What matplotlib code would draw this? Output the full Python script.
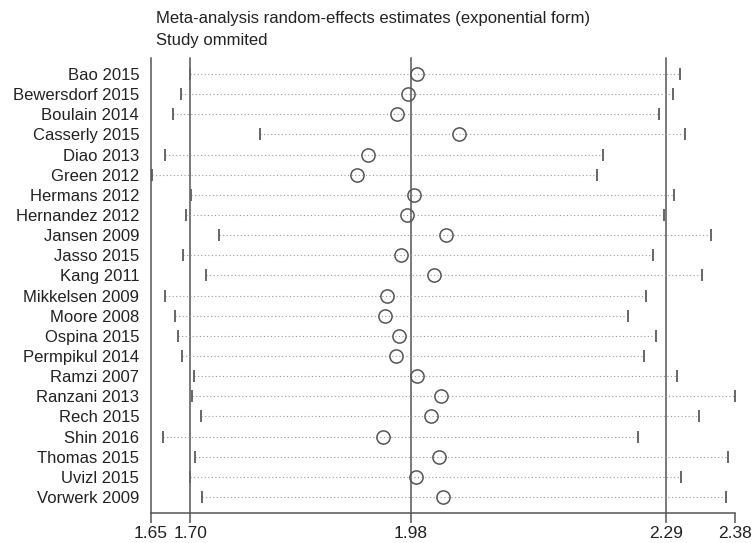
import matplotlib
matplotlib.use("Agg")
import matplotlib.pyplot as plt

plt.rcParams['font.family'] = ['Liberation Sans', 'DejaVu Sans']

studies = ["Bao 2015", "Bewersdorf 2015", "Boulain 2014", "Casserly 2015", "Diao 2013",
           "Green 2012", "Hermans 2012", "Hernandez 2012", "Jansen 2009", "Jasso 2015",
           "Kang 2011", "Mikkelsen 2009", "Moore 2008", "Ospina 2015", "Permpikul 2014",
           "Ramzi 2007", "Ranzani 2013", "Rech 2015", "Shin 2016", "Thomas 2015",
           "Uvizl 2015", "Vorwerk 2009"]
estimate = [1.984, 1.973, 1.959, 2.037, 1.924, 1.910, 1.981, 1.972, 2.021, 1.965, 2.006,
            1.947, 1.945, 1.962, 1.958, 1.984, 2.014, 2.002, 1.942, 2.012, 1.983, 2.017]
lower = [1.703, 1.691, 1.681, 1.790, 1.671, 1.655, 1.704, 1.697, 1.738, 1.694, 1.722,
         1.672, 1.684, 1.688, 1.692, 1.707, 1.705, 1.716, 1.669, 1.709, 1.702, 1.717]
upper = [2.311, 2.302, 2.285, 2.317, 2.215, 2.208, 2.303, 2.291, 2.349, 2.277, 2.339,
         2.269, 2.247, 2.281, 2.266, 2.307, 2.379, 2.335, 2.259, 2.371, 2.312, 2.368]
# overall estimate and its CI, plus the range of the study CIs
overall = [1.703, 1.977, 2.294]
xticks = [1.654, 1.703, 1.977, 2.294, 2.379]

fig = plt.figure(figsize=(7.56, 5.43), dpi=100)
ax = fig.add_axes([151/756, 1 - 513/543, (734.7 - 151)/756, (513 - 58)/543])

rows = list(range(len(studies)))
for i in rows:
    ax.plot([lower[i], upper[i]], [i, i], color='#999999', lw=0.8,
            linestyle=(0, (1, 2.2)), zorder=1)
    ax.plot([lower[i], upper[i]], [i, i], linestyle='none', marker='|',
            markersize=9, markeredgewidth=1.4, color='#666666', zorder=2)
ax.plot(estimate, rows, linestyle='none', marker='o', markersize=9.5,
        markerfacecolor='none', markeredgecolor='#555555', markeredgewidth=1.1, zorder=3)

for v in overall:
    ax.axvline(v, color='#555555', lw=1.1, zorder=0, clip_on=False)

ax.set_xlim(xticks[0], xticks[-1])
ax.set_ylim(len(studies) - 1 + 0.79, -0.79)
ax.set_xticks(xticks)
ax.set_xticklabels(["%.2f" % v for v in xticks], fontsize=12.5, color='#222222')
ax.tick_params(axis='x', length=7, width=1.1, color='#555555', pad=2.5)
ax.set_yticks(rows)
ax.set_yticklabels(studies, fontsize=12, color='#222222')
ax.tick_params(axis='y', length=0, pad=8.5)

for s in ['top', 'right']:
    ax.spines[s].set_visible(False)
for s in ['left', 'bottom']:
    ax.spines[s].set_color('#555555')
    ax.spines[s].set_linewidth(1.1)

fig.text(156/756, 1 - 18/543, "Meta-analysis random-effects estimates (exponential form)",
         fontsize=12, va='center', ha='left', color='#222222')
fig.text(156/756, 1 - 40/543, "Study ommited", fontsize=12, va='center', ha='left',
         color='#222222')

fig.savefig("out.png", dpi=100)
